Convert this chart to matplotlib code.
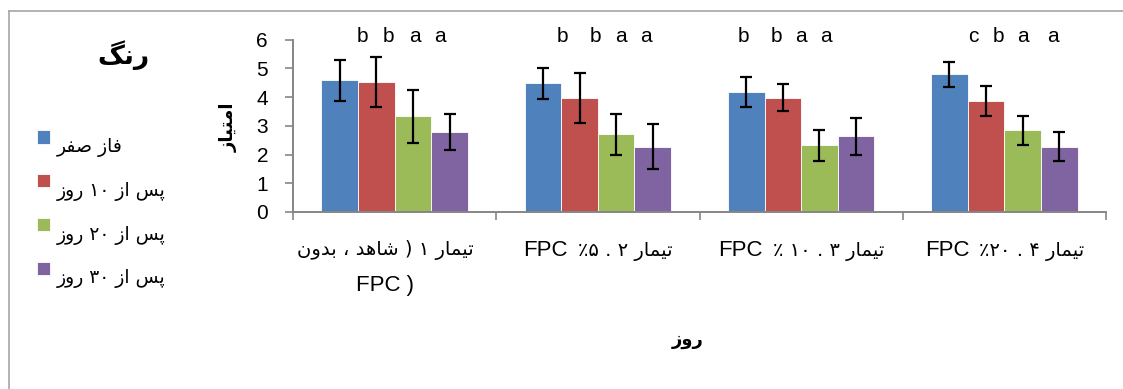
import re
import matplotlib
matplotlib.use("Agg")
import matplotlib.pyplot as plt
from matplotlib.lines import Line2D
from matplotlib.patches import Rectangle
from matplotlib.legend_handler import HandlerPatch
from matplotlib.offsetbox import TextArea, HPacker, VPacker, AnnotationBbox

# ---------------- data ----------------
categories = ["تیمار ۱ \u0029 شاهد ، بدون FPC \u0029", "تیمار ۲ . ۵٪ FPC",
              "تیمار ۳ . ۱۰ ٪ FPC", "تیمار ۴ . ۲۰٪ FPC"]
series_names = ["فاز صفر", "پس از ۱۰ روز", "پس از ۲۰ روز", "پس از ۳۰ روز"]
phase0 = [4.58, 4.48, 4.17, 4.79]
err0 = [0.70, 0.53, 0.53, 0.42]
day10 = [4.53, 3.97, 3.97, 3.86]
err10 = [0.86, 0.88, 0.47, 0.52]
day20 = [3.33, 2.71, 2.32, 2.84]
err20 = [0.92, 0.71, 0.53, 0.52]
day30 = [2.80, 2.28, 2.63, 2.28]
err30 = [0.63, 0.78, 0.65, 0.52]
sig_letters = [["b", "b", "a", "a"], ["b", "b", "a", "a"],
               ["b", "b", "a", "a"], ["c", "b", "a", "a"]]
y_ticks = [0, 1, 2, 3, 4, 5, 6]
legend_title = "رنگ"
y_label = "امتیاز"
x_label = "روز"

# ---------------- layout / style ----------------
colors = ["#4F81BD", "#C0504D", "#9BBB59", "#8064A2"]
letter_dx = [[-0.156, -0.028, 0.100, 0.223], [-0.172, -0.014, 0.114, 0.237],
             [-0.285, -0.123, 0.0, 0.123], [-0.152, -0.03, 0.093, 0.241]]
wrap_label = [True, False, False, False]
label_dx_pt = [-7, 0, 0, 0]
GRAY = "#868686"
FA = ["DejaVu Sans"]
LAT = ["Liberation Sans", "DejaVu Sans"]

# ---------------- minimal Persian shaping + bidi ----------------
FORMS = {
    "ا": ("\uFE8D", "\uFE8E", None, None),
    "ب": ("\uFE8F", "\uFE90", "\uFE91", "\uFE92"),
    "پ": ("\uFB56", "\uFB57", "\uFB58", "\uFB59"),
    "ت": ("\uFE95", "\uFE96", "\uFE97", "\uFE98"),
    "د": ("\uFEA9", "\uFEAA", None, None),
    "ر": ("\uFEAD", "\uFEAE", None, None),
    "ز": ("\uFEAF", "\uFEB0", None, None),
    "س": ("\uFEB1", "\uFEB2", "\uFEB3", "\uFEB4"),
    "ش": ("\uFEB5", "\uFEB6", "\uFEB7", "\uFEB8"),
    "ص": ("\uFEB9", "\uFEBA", "\uFEBB", "\uFEBC"),
    "ف": ("\uFED1", "\uFED2", "\uFED3", "\uFED4"),
    "گ": ("\uFB92", "\uFB93", "\uFB94", "\uFB95"),
    "م": ("\uFEE1", "\uFEE2", "\uFEE3", "\uFEE4"),
    "ن": ("\uFEE5", "\uFEE6", "\uFEE7", "\uFEE8"),
    "ه": ("\uFEE9", "\uFEEA", "\uFEEB", "\uFEEC"),
    "و": ("\uFEED", "\uFEEE", None, None),
    "\u06CC": ("\uFBFC", "\uFBFD", "\uFBFE", "\uFBFF"),
    "\u064A": ("\uFEF1", "\uFEF2", "\uFEF3", "\uFEF4"),
}


def shape(s):
    out = []
    for i, c in enumerate(s):
        if c not in FORMS:
            out.append(c)
            continue
        iso, fin, ini, med = FORMS[c]
        prev = s[i - 1] if i > 0 else None
        nxt = s[i + 1] if i + 1 < len(s) else None
        jp = prev in FORMS and FORMS[prev][2] is not None
        jn = nxt in FORMS and ini is not None
        out.append(med if (jp and jn) else fin if jp else ini if jn else iso)
    return "".join(out)


LTR = r"0-9A-Za-z\u06F0-\u06F9"


def visual(s):
    s = shape(s)
    runs = re.findall(r"[%s]+|[^%s]+" % (LTR, LTR), s)
    out = []
    for r in reversed(runs):
        out.append(r if re.match(r"[%s]" % LTR, r) else r[::-1])
    return "".join(out)


# ---------------- figure ----------------
fig = plt.figure(figsize=(11.23, 3.89), dpi=100)
ax = fig.add_axes([293 / 1123, 1 - 212 / 389, 813 / 1123, (212 - 39.7) / 389])

series = [phase0, day10, day20, day30]
errs = [err0, err10, err20, err30]
x = list(range(len(categories)))
bw = 0.18
containers = []
for k, (vals, e) in enumerate(zip(series, errs)):
    pos = [xi + (k - 1.5) * bw for xi in x]
    c = ax.bar(pos, vals, bw, yerr=e, color=colors[k], edgecolor="white",
               linewidth=0.6, capsize=4.5,
               error_kw=dict(elinewidth=1.6, capthick=1.6, ecolor="black"),
               label=visual(series_names[k]), zorder=2)
    containers.append(c)

ax.set_xlim(-0.5, len(categories) - 0.5)
ax.set_ylim(0, 6)
ax.set_yticks(y_ticks)
ax.set_yticklabels([str(t) for t in y_ticks], family=LAT, fontsize=15)
ax.set_xticks([i - 0.5 for i in range(len(categories) + 1)])
ax.set_xticklabels([])
ax.tick_params(axis="y", direction="out", length=6, width=1.2, color=GRAY, pad=12)
ax.tick_params(axis="x", direction="out", length=5.5, width=1.2, color=GRAY)
for s in ("top", "right"):
    ax.spines[s].set_visible(False)
for s in ("left", "bottom"):
    ax.spines[s].set_color(GRAY)
    ax.spines[s].set_linewidth(1.4)

# significance letters
for i, lets in enumerate(sig_letters):
    for j, L in enumerate(lets):
        ax.text(i + letter_dx[i][j], 6.12, L, ha="center", va="center",
                fontsize=15, family=LAT, clip_on=False)

# category labels
xform = ax.get_xaxis_transform()
for i, cat in enumerate(categories):
    fa_part, lat_part = cat.split("FPC")
    fa_txt = TextArea(visual(fa_part.strip()), textprops=dict(fontsize=14, family=FA))
    lat_txt = TextArea("FPC" + lat_part, textprops=dict(fontsize=16, family=LAT))
    if wrap_label[i]:
        box = VPacker(children=[fa_txt, lat_txt], align="center", pad=0, sep=11)
    else:
        box = HPacker(children=[lat_txt, fa_txt], align="baseline", pad=0, sep=7)
    ab = AnnotationBbox(box, (i, 0), xycoords=xform, xybox=(label_dx_pt[i], -20),
                        boxcoords="offset points", box_alignment=(0.5, 1),
                        frameon=False, annotation_clip=False)
    ax.add_artist(ab)

# axis labels
fig.text(229 / 1123, 1 - 127 / 389, visual(y_label), rotation=90, ha="center",
         va="center", fontsize=13, fontweight="bold", family=FA)
fig.text(688 / 1123, 1 - 340 / 389, visual(x_label), ha="center", va="center",
         fontsize=13, fontweight="bold", family=FA)

# legend
fig.text(123 / 1123, 1 - 55 / 389, visual(legend_title), ha="center", va="center",
         fontsize=19, fontweight="bold", family=FA)


def raised_square(legend, orig_handle, xdescent, ydescent, width, height, fontsize):
    return Rectangle((-xdescent, -ydescent + 0.45 * fontsize), width, height)


handles = [c.patches[0] for c in containers]
fig.legend(handles, [visual(n) for n in series_names], loc="upper left",
           bbox_to_anchor=(37 / 1123, 1 - 137 / 389), frameon=False,
           prop=dict(family=FA, size=13.5), handlelength=0.7, handleheight=0.7,
           handletextpad=0.35, labelspacing=1.27, borderpad=0, borderaxespad=0,
           handler_map={Rectangle: HandlerPatch(patch_func=raised_square)})

# outer frame
fig.add_artist(Line2D([9 / 1123, 1], [1 - 11 / 389] * 2, transform=fig.transFigure,
                      color="#A6A6A6", lw=1.2))
fig.add_artist(Line2D([9 / 1123] * 2, [1 - 11 / 389, 0], transform=fig.transFigure,
                      color="#A6A6A6", lw=1.2))

fig.savefig("out.png", dpi=100)
